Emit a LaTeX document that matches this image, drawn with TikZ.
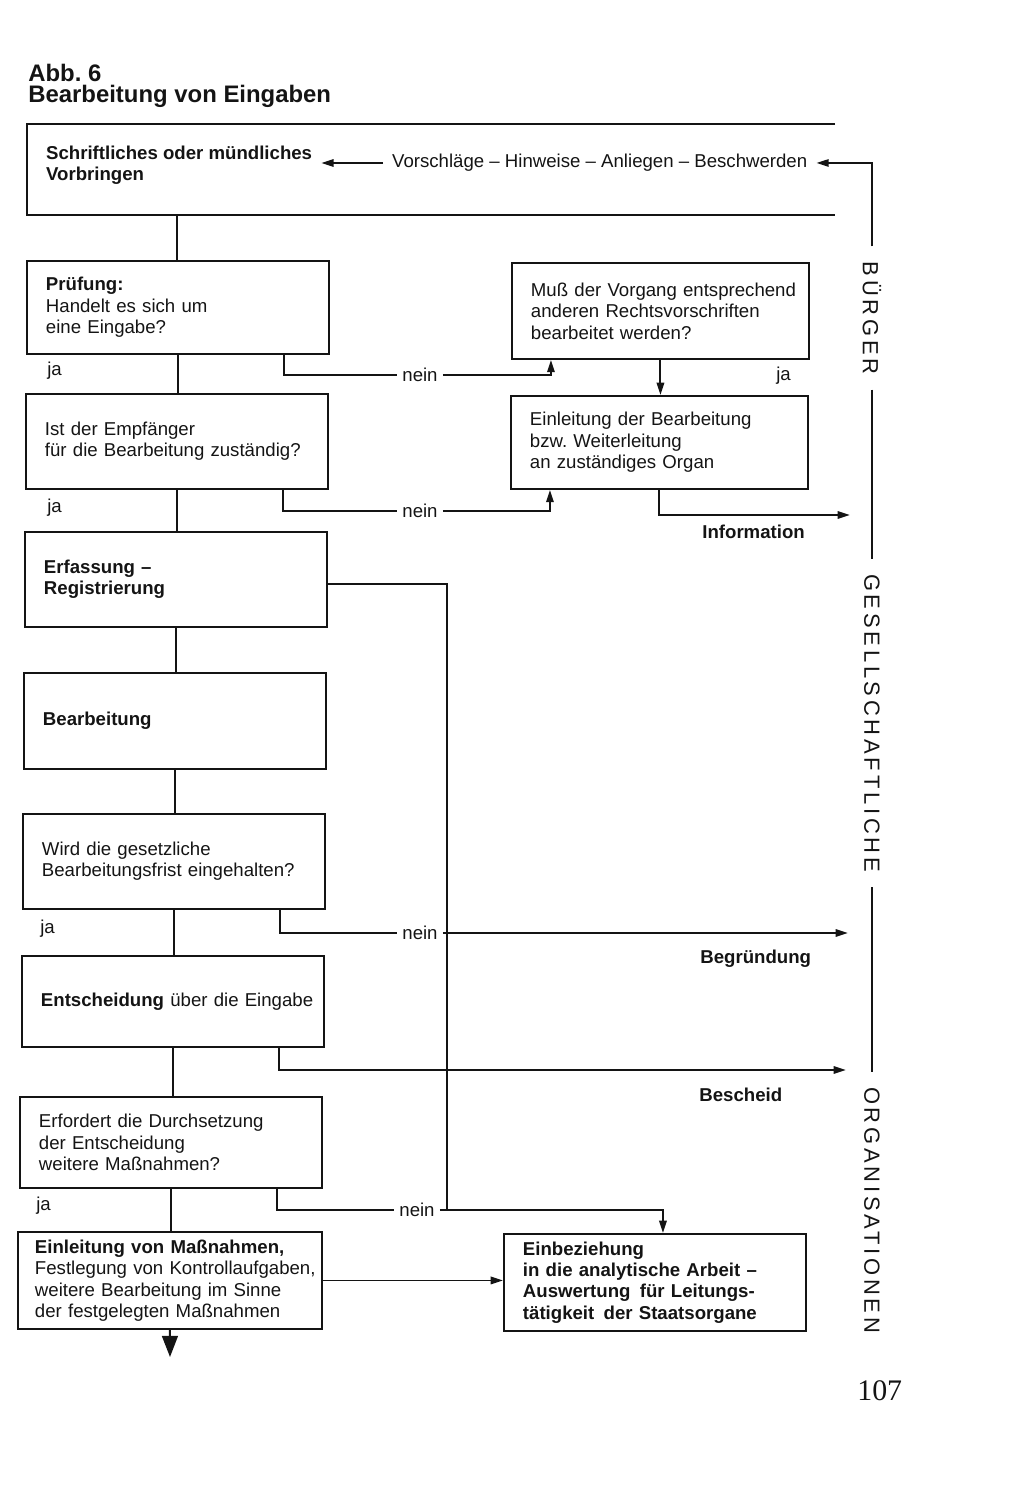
\documentclass[tikz,border=0pt]{standalone}
\usepackage{fontspec}
\setmainfont{Liberation Sans}
\newfontfamily\sidefont[LetterSpace=17]{Liberation Sans}
\newfontfamily\numfont{Liberation Serif}
\usetikzlibrary{arrows.meta}
\frenchspacing

\begin{document}
\begin{tikzpicture}
[ x = 0.02cm, y = -0.02cm,
  every node/.style = {font = \fontsize{10.6}{12.2}\selectfont, text = inkcolor},
  box/.style  = {draw = inkcolor, line width = 1.1pt, anchor = north west, align = left,
                 inner xsep = 0.2cm, text width = 5.64cm, minimum height = 1.9cm,
                 execute at begin node = {\leftskip = 0.18cm}},
  rbox/.style = {box, text width = 5.54cm},
  lbl/.style  = {inner sep = 0pt, anchor = west},
  nein/.style = {inner xsep = 2.8pt, inner ysep = 0pt},
  side/.style = {rotate = -90, inner xsep = 0.3cm, inner ysep = 0pt,
                 font = \sidefont\fontsize{12.5}{12.5}\selectfont},
  con/.style  = {draw = inkcolor, line width = 1.1pt},
  arr/.style  = {con, -{Triangle[length = 7pt, width = 4.2pt]}},
  bigarr/.style = {con, -{Triangle[length = 12pt, width = 9pt]}},
]

% Define ink colors
\colorlet{inkcolor}{black!92}

\useasboundingbox (0,0) rectangle (1024,1506);

%%%%%%%%%%% TITLE
  \node[lbl, anchor = base west, font = \fontsize{13.6}{15}\selectfont\bfseries](abb) at (28,82) {Abb. 6};
  \node[lbl, anchor = base west, font = \fontsize{13.6}{15}\selectfont\bfseries](title) at (28,103) {Bearbeitung von Eingaben};

%%%%%%%%%%% INPUT FRAME
  \draw[con] (835,124) -- (27,124) -- (27,215) -- (835,215);
  \coordinate (frame) at (177,215);
  \node[anchor = west, align = left, inner xsep = 5pt](schr) at (37,165)
    {\textbf{Schriftliches oder mündliches}\\ \textbf{Vorbringen}};
  \node[anchor = west, inner xsep = 5pt](vor) at (383,163)
    {Vorschläge -- Hinweise -- Anliegen -- Beschwerden};

%%%%%%%%%%% MAIN COLUMN
  \node[box, minimum height = 1.86cm](pruef) at (26,260) {\textbf{Prüfung:}\\ Handelt es sich um\\ eine Eingabe?};
  \node[box](zust)   at (25,393)  {Ist der Empfänger\\ für die Bearbeitung zuständig?};
  \node[box, font = \fontsize{10.6}{12.2}\selectfont\bfseries](erf) at (24,531) {Erfassung --\\ Registrierung};
  \node[box, minimum height = 1.92cm, font = \fontsize{10.6}{12.2}\selectfont\bfseries](bearb) at (23,672) {Bearbeitung};
  \node[box](frist)  at (22,813)  {Wird die gesetzliche\\ Bearbeitungsfrist eingehalten?};
  \node[box, minimum height = 1.82cm](entsch) at (21,955) {\textbf{Entscheidung} über die Eingabe};
  \node[box, minimum height = 1.82cm](durchs) at (19,1096) {Erfordert die Durchsetzung\\ der Entscheidung\\ weitere Maßnahmen?};
  \node[box, minimum height = 1.94cm, inner xsep = 0.06cm, text width = 5.96cm,
        execute at begin node = {\leftskip = 0.28cm}](massn) at (17,1231)
    {\textbf{Einleitung von Maßnahmen,}\\ Festlegung von Kontrollaufgaben,\\ weitere Bearbeitung im Sinne\\ der festgelegten Maßnahmen};

%%%%%%%%%%% RIGHT COLUMN
  \node[rbox, minimum height = 1.92cm](vorg) at (511,262) {Muß der Vorgang entsprechend\\ anderen Rechtsvorschriften\\ bearbeitet werden?};
  \node[rbox, minimum height = 1.86cm](weiter) at (510,395) {Einleitung der Bearbeitung\\ bzw. Weiterleitung\\ an zuständiges Organ};
  \node[box, minimum height = 1.94cm, font = \fontsize{10.6}{12.2}\selectfont\bfseries](einbez) at (503,1233)
    {Einbeziehung\\ in die analytische Arbeit --\\ Auswertung\, für Leitungs-\\ tätigkeit\, der Staatsorgane};

%%%%%%%%%%% LABELS
  \node[lbl](ja1) at (47,371)  {ja};
  \node[lbl](ja2) at (47,508)  {ja};
  \node[lbl](ja3) at (40,929)  {ja};
  \node[lbl](ja4) at (36,1206) {ja};
  \node[lbl](ja5) at (776,376) {ja};
  \node[nein](nein1) at (420,375)  {nein};
  \node[nein](nein2) at (420,511)  {nein};
  \node[nein](nein3) at (420,933)  {nein};
  \node[nein](nein4) at (417,1210) {nein};
  \node[lbl, font = \fontsize{10.6}{12.2}\selectfont\bfseries](infotext)  at (702,532)  {Information};
  \node[lbl, font = \fontsize{10.6}{12.2}\selectfont\bfseries](begrtext)  at (700,959)  {Begründung};
  \node[lbl, font = \fontsize{10.6}{12.2}\selectfont\bfseries](beschtext) at (699,1095) {Bescheid};
  \node[lbl, font = \numfont\fontsize{17}{17}\selectfont](page) at (857,1391) {107};

%%%%%%%%%%% SIDE TEXT
  \node[side](bg)  at (872,318)  {BÜRGER};
  \node[side](ges) at (872,723)  {GESELLSCHAFTLICHE};
  \node[side](org) at (872,1210) {ORGANISATIONEN};

  \coordinate (info)  at (850,515);
  \coordinate (begr)  at (848,933);
  \coordinate (besch) at (846,1070);
  \coordinate (join)  at (447,1210);
  \coordinate (out)   at (170,1357);

%%%%%%%%%%% CONNECTIONS
  \draw[arr] (vor.west) -- (vor.west -| schr.east);
  \draw[arr] (bg.west) |- (vor.east);
  \draw[con] (bg.east) -- (ges.west);
  \draw[con] (ges.east) -- (org.west);

  \draw[con] (frame) -- (frame |- pruef.north);
  \draw[con] (pruef.south) -- (pruef.south |- zust.north);
  \draw[con] (zust.south) -- (zust.south |- erf.north);
  \draw[con] (erf.south) -- (erf.south |- bearb.north);
  \draw[con] (bearb.south) -- (bearb.south |- frist.north);
  \draw[con] (frist.south) -- (frist.south |- entsch.north);
  \draw[con] (entsch.south) -- (entsch.south |- durchs.north);
  \draw[con] (durchs.south) -- (durchs.south |- massn.north);
  \draw[bigarr] (massn.south) -- (out);

  \draw[con] ([xshift = 2.12cm]pruef.south) |- (nein1.west);
  \draw[arr] (nein1.east) -| ([xshift = -2.19cm]vorg.south);
  \draw[arr] (vorg.south) -- (vorg.south |- weiter.north);
  \draw[con] ([xshift = 2.12cm]zust.south) |- (nein2.west);
  \draw[arr] (nein2.east) -| ([xshift = -2.19cm]weiter.south);
  \draw[arr] (weiter.south) |- (info);

  \draw[con] ([yshift = -0.09cm]erf.east) -| (join);
  \draw[con] ([xshift = 2.12cm]frist.south) |- (nein3.west);
  \draw[arr] (nein3.east) -- (begr);
  \draw[arr] ([xshift = 2.12cm]entsch.south) |- (besch);
  \draw[con] ([xshift = 2.12cm]durchs.south) |- (nein4.west);
  \draw[arr] (nein4.east) -| ([xshift = 0.16cm]einbez.north);
  \draw[arr] (massn.east) -- (massn.east -| einbez.west);

\end{tikzpicture}
\end{document}
